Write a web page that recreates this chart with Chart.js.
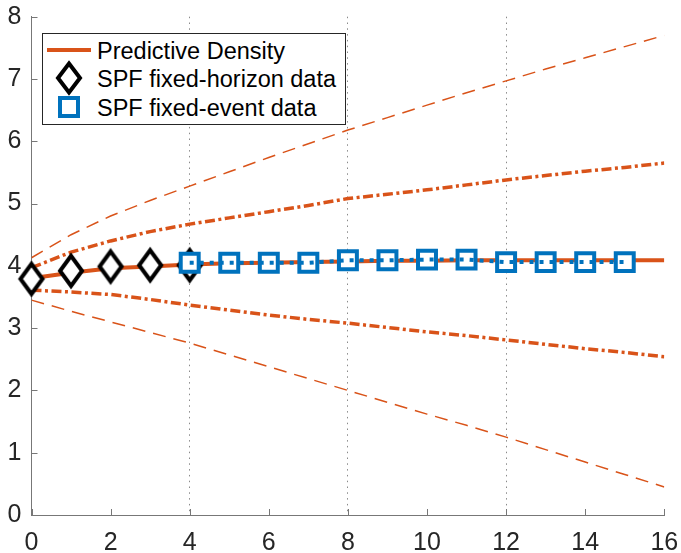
<!DOCTYPE html>
<html>
<head>
<meta charset="utf-8">
<script src="https://cdn.jsdelivr.net/npm/chart.js@4/dist/chart.umd.min.js"></script>
<style>
  html, body { margin: 0; padding: 0; background: #fff; }
  #wrap { position: relative; width: 681px; height: 553px; }
  #chart { position: absolute; left: 0; top: 0; }
  .legend {
    position: absolute; left: 42px; top: 33px; width: 302px; height: 90px;
    border: 1px solid #262626; background: #fff;
    font-family: "Liberation Sans", Arial, sans-serif; font-size: 23.5px; color: #000;
  }
  .legend .lbl { position: absolute; left: 54px; white-space: nowrap; line-height: 26px; }
  .legend .sym { position: absolute; }
</style>
</head>
<body>
<div id="wrap">
  <canvas id="chart" width="681" height="553"></canvas>
  <div class="legend">
    <div class="sym" style="left:4px; top:14px; width:44px; height:4px; background:#D95319;"></div>
    <div class="lbl" style="top:4px;">Predictive Density</div>
    <svg class="sym" style="left:12px; top:26px;" width="28" height="36">
      <polygon points="14,3.5 25,18 14,32.5 3,18" fill="#fff" stroke="#000" stroke-width="4" stroke-linejoin="miter"/>
    </svg>
    <div class="lbl" style="top:32px;">SPF fixed-horizon data</div>
    <svg class="sym" style="left:14px; top:61px;" width="24" height="24">
      <rect x="3" y="3" width="18" height="18" fill="#fff" stroke="#0072BD" stroke-width="4"/>
    </svg>
    <div class="lbl" style="top:61px;">SPF fixed-event data</div>
  </div>
</div>
<script>
// forecast horizon (quarters)
const horizon = [0, 1, 2, 3, 4, 5, 6, 7, 8, 9, 10, 11, 12, 13, 14, 15, 16];
const median = [3.80, 3.89, 3.96, 3.99, 4.02, 4.04, 4.05, 4.06, 4.07, 4.08, 4.08, 4.09, 4.09, 4.09, 4.09, 4.09, 4.09];
const innerHi = [3.97, 4.22, 4.40, 4.55, 4.67, 4.77, 4.87, 4.97, 5.08, 5.15, 5.22, 5.30, 5.38, 5.45, 5.52, 5.58, 5.65];
const innerLo = [3.61, 3.58, 3.54, 3.46, 3.37, 3.29, 3.21, 3.14, 3.08, 3.01, 2.94, 2.88, 2.81, 2.74, 2.67, 2.61, 2.54];
const outerHi = [4.13, 4.50, 4.80, 5.05, 5.28, 5.51, 5.74, 5.96, 6.18, 6.38, 6.58, 6.78, 6.97, 7.16, 7.34, 7.52, 7.70];
const outerLo = [3.45, 3.27, 3.10, 2.93, 2.76, 2.57, 2.38, 2.19, 2.00, 1.81, 1.62, 1.44, 1.25, 1.05, 0.85, 0.65, 0.45];

// survey data
const fhX = [0, 1, 2, 3, 4];
const fhY = [3.79, 3.92, 3.99, 4.01, 4.01];
const feX = [4, 5, 6, 7, 8, 9, 10, 11, 12, 13, 14, 15];
const feY = [4.05, 4.05, 4.05, 4.05, 4.09, 4.09, 4.10, 4.10, 4.06, 4.06, 4.06, 4.06];

const xTicks = [0, 2, 4, 6, 8, 10, 12, 14, 16];
const yTicks = [0, 1, 2, 3, 4, 5, 6, 7, 8];
const gridAt = [4, 8, 12];

const ORANGE = "#D95319";
const BLUE = "#0072BD";
const FONT = "'Liberation Sans', Arial, sans-serif";

const pts = (xs, ys) => xs.map((x, i) => ({ x: x, y: ys[i] }));

// tall diamond marker
const diamond = document.createElement("canvas");
diamond.width = 34;
diamond.height = 42;
(function () {
  const c = diamond.getContext("2d");
  c.lineWidth = 4;
  c.lineJoin = "miter";
  c.beginPath();
  c.moveTo(17, 6);
  c.lineTo(28, 21);
  c.lineTo(17, 36);
  c.lineTo(6, 21);
  c.closePath();
  c.fillStyle = "#fff";
  c.fill();
  c.strokeStyle = "#000";
  c.stroke();
})();

const innerTicks = {
  id: "innerTicks",
  beforeDatasetsDraw(chart) {
    const { ctx, chartArea } = chart;
    const sx = chart.scales.x, sy = chart.scales.y;
    ctx.save();
    ctx.strokeStyle = "#777";
    ctx.lineWidth = 1;
    ctx.beginPath();
    xTicks.forEach((v) => {
      const px = Math.round(sx.getPixelForValue(v)) + 0.5;
      ctx.moveTo(px, chartArea.bottom);
      ctx.lineTo(px, chartArea.bottom - 6);
    });
    yTicks.forEach((v) => {
      const py = Math.round(sy.getPixelForValue(v)) + 0.5;
      ctx.moveTo(chartArea.left, py);
      ctx.lineTo(chartArea.left + 6, py);
    });
    ctx.stroke();
    ctx.restore();
  },
};

const lineSet = (data, width, dash, order) => ({
  data: data,
  borderColor: ORANGE,
  borderWidth: width,
  borderDash: dash,
  pointRadius: 0,
  tension: 0,
  fill: false,
  order: order,
});

new Chart(document.getElementById("chart"), {
  type: "line",
  data: {
    datasets: [
      lineSet(pts(horizon, outerHi), 1.5, [13, 8], 10),
      lineSet(pts(horizon, outerLo), 1.5, [13, 8], 10),
      lineSet(pts(horizon, innerHi), 3.5, [10, 3.5, 3, 3.5], 9),
      lineSet(pts(horizon, innerLo), 3.5, [10, 3.5, 3, 3.5], 9),
      lineSet(pts(horizon, median), 4, [], 8),
      {
        data: pts(fhX, fhY),
        showLine: false,
        pointStyle: diamond,
        pointRadius: 15,
        clip: false,
        order: 7,
      },
      {
        data: pts(feX, feY),
        showLine: false,
        pointStyle: "rect",
        pointRadius: 12.7,
        pointBorderWidth: 4,
        pointBorderColor: BLUE,
        pointBackgroundColor: "#fff",
        clip: false,
        order: 6,
      },
      {
        data: pts(feX, feY),
        borderColor: BLUE,
        borderWidth: 4,
        borderDash: [4, 6],
        pointRadius: 0,
        tension: 0,
        order: 5,
      },
    ],
  },
  options: {
    responsive: false,
    animation: false,
    events: [],
    layout: { padding: { top: 16, right: 16, left: 0, bottom: 0 } },
    plugins: { legend: { display: false }, tooltip: { enabled: false } },
    scales: {
      x: {
        type: "linear",
        min: 0,
        max: 16,
        afterFit: (s) => { s.height = 38; s.paddingLeft = 0; s.paddingRight = 0; },
        afterBuildTicks: (s) => { s.ticks = xTicks.map((v) => ({ value: v })); },
        ticks: { padding: 13, maxRotation: 0, color: "#262626", font: { family: FONT, size: 25 } },
        grid: {
          drawTicks: false,
          color: (c) => (c.tick && gridAt.includes(c.tick.value) ? "#8a8a8a" : "rgba(0,0,0,0)"),
          lineWidth: 1,
        },
        border: { display: true, color: "#777", width: 1, dash: [1.5, 4.3] },
      },
      y: {
        min: 0,
        max: 8,
        afterFit: (s) => { s.width = 31.5; s.paddingTop = 0; s.paddingBottom = 0; },
        afterBuildTicks: (s) => { s.ticks = yTicks.map((v) => ({ value: v })); },
        ticks: { padding: 10, color: "#262626", font: { family: FONT, size: 25 } },
        grid: { display: false, drawTicks: false },
        border: { display: true, color: "#777", width: 1 },
      },
    },
  },
  plugins: [innerTicks],
});
</script>
</body>
</html>
